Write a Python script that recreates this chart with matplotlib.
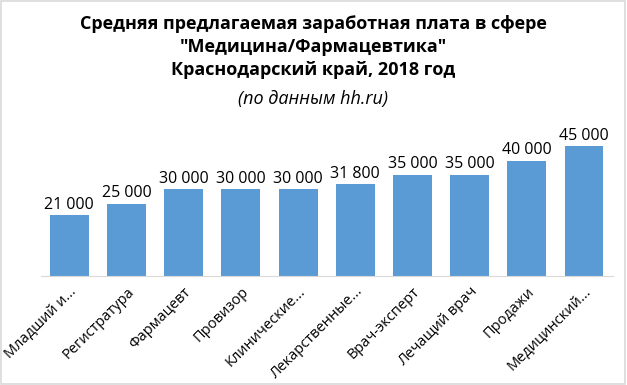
import matplotlib.pyplot as plt
from matplotlib.patches import Rectangle

plt.rcParams['font.family'] = ['Open Sans', 'DejaVu Sans']

# data
categories = ['Младший и...', 'Регистратура', 'Фармацевт', 'Провизор', 'Клинические...',
              'Лекарственные...', 'Врач-эксперт', 'Лечащий врач', 'Продажи', 'Медицинский...']
salaries = [21000, 25000, 30000, 30000, 30000, 31800, 35000, 35000, 40000, 45000]
value_labels = ['21 000', '25 000', '30 000', '30 000', '30 000',
                '31 800', '35 000', '35 000', '40 000', '45 000']

fig = plt.figure(figsize=(6.27, 3.85), dpi=100)
ax = fig.add_axes([0.065, 0.283, 0.912, 0.375])

x = range(len(categories))
bars = ax.bar(x, salaries, width=0.68, color='#5B9BD5')

for bar, label in zip(bars, value_labels):
    ax.text(bar.get_x() + bar.get_width() / 2, bar.get_height() + 900, label,
            ha='center', va='bottom', fontsize=11.5, color='#000000')

ax.set_xlim(-0.5, len(categories) - 0.5)
ax.set_ylim(0, 50000)
ax.set_xticks(list(x))
ax.set_xticklabels(categories, rotation=45, ha='right', rotation_mode='anchor',
                   fontsize=10.5, color='#000000')
ax.tick_params(axis='x', length=0, pad=6)
ax.set_yticks([])
for side in ['top', 'left', 'right']:
    ax.spines[side].set_visible(False)
ax.spines['bottom'].set_color('#D9D9D9')

# title block
fig.text(0.5, 1 - 24 / 385, 'Средняя предлагаемая заработная плата в сфере',
         ha='center', va='center', fontsize=13, fontweight='bold')
fig.text(0.5, 1 - 47 / 385, '"Медицина/Фармацевтика"',
         ha='center', va='center', fontsize=13, fontweight='bold')
fig.text(0.5, 1 - 70 / 385, 'Краснодарский край, 2018 год',
         ha='center', va='center', fontsize=13, fontweight='bold')
fig.text(0.5, 1 - 99 / 385, '(по данным hh.ru)',
         ha='center', va='center', fontsize=13, fontstyle='italic')

# chart border
fig.patches.append(Rectangle((0.002, 0.003), 0.995, 0.994, transform=fig.transFigure,
                             fill=False, edgecolor='#D9D9D9', linewidth=1.2))

fig.savefig('out.png', dpi=100)
